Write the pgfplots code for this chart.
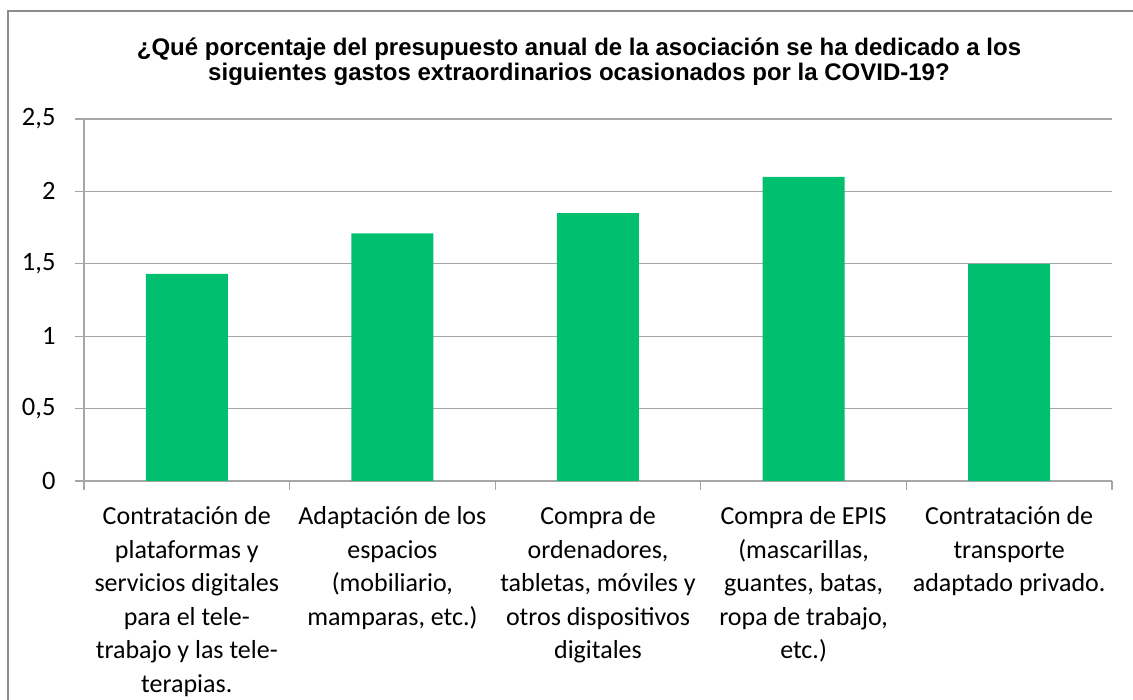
\documentclass[border=0pt]{standalone}
\usepackage{fontspec}
\setmainfont{Carlito}
\newfontfamily\titlefont{Liberation Sans}
\usepackage{pgfplots}
\pgfplotsset{compat=1.18}
\definecolor{barg}{HTML}{00BF6F}
\definecolor{gridg}{HTML}{A6A6A6}
\definecolor{borderg}{HTML}{8C8C8C}
\begin{document}
\begin{tikzpicture}
\useasboundingbox (0,0) rectangle (1133pt,700pt);
\draw[borderg, line width=1.3pt] (8pt,0) -- (8pt,689pt) -- (1133pt,689pt);
\node[font=\titlefont\bfseries\fontsize{24}{25}\selectfont, align=center, anchor=base] at (579pt,619pt)
  {¿Qué porcentaje del presupuesto anual de la asociación se ha dedicado a los\\siguientes gastos extraordinarios ocasionados por la COVID-19?};
\begin{axis}[
  at={(84pt,219pt)}, anchor=south west,
  scale only axis, width=1028pt, height=362pt,
  xmin=-0.5, xmax=4.5, ymin=0, ymax=2.5,
  ytick={0,0.5,1,1.5,2,2.5},
  xtick={0,1,2,3,4},
  minor xtick={-0.5,0.5,1.5,2.5,3.5,4.5},
  major x tick style={draw=none},
  minor x tick style={draw=gridg, line width=1.3pt},
  y tick style={draw=gridg, line width=1.3pt},
  tick align=outside,
  major tick length=9pt, minor tick length=9pt,
  ymajorgrids, grid style={gridg, line width=1.3pt},
  axis x line*=bottom, axis y line*=left,
  axis line style={gridg, line width=1.3pt, -},
  /pgf/number format/use comma,
  /pgf/number format/assume math mode=true,
  yticklabel style={font=\fontsize{26.5}{34}\selectfont, xshift=-16pt},
  xticklabels={{Contratación de\\plataformas y\\servicios digitales\\para el tele-\\trabajo y las tele-\\terapias.},
    {Adaptación de los\\espacios\\(mobiliario,\\mamparas, etc.)},
    {Compra de\\ordenadores,\\tabletas, móviles y\\otros dispositivos\\digitales},
    {Compra de EPIS\\(mascarillas,\\guantes, batas,\\ropa de trabajo,\\etc.)},
    {Contratación de\\transporte\\adaptado privado.}},
  xticklabel style={font=\fontsize{26}{33.5}\selectfont, align=center, anchor=north, yshift=-13pt},
  ybar, bar width=82pt,
  clip=false,
]
\addplot[fill=barg, draw=none] coordinates {(0,1.43) (1,1.71) (2,1.85) (3,2.10) (4,1.50)};
\end{axis}
\end{tikzpicture}
\end{document}
